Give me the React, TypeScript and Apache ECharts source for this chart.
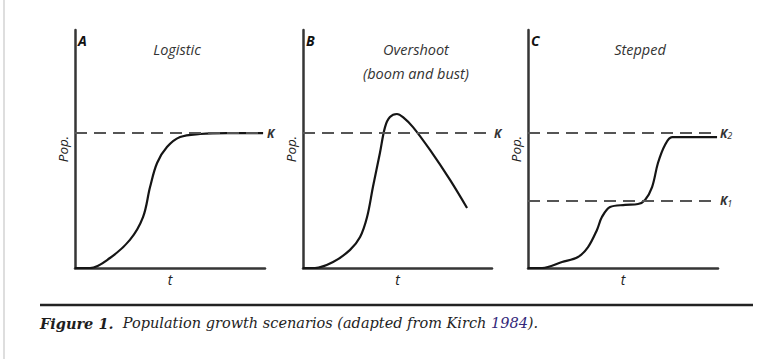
import React, { useEffect, useRef } from "react";
import * as echarts from "echarts";

// Panel titles and labels
const panelLetters = ["A", "B", "C"];
const panelTitles = ["Logistic", "Overshoot\n(boom and bust)", "Stepped"];
const xAxisName = "t";
const yAxisName = "Pop.";

// Curves: [time, population] on 0..100 scales
const logistic: [number, number][] = [
  [0, 0], [7.9, 0], [18.4, 4.2], [28.9, 11.8], [35.8, 21.4], [39.5, 34.0],
  [43.2, 44.1], [48.4, 50.8], [55.3, 55.0], [65.8, 56.3], [80, 56.7], [99, 56.7],
];
const overshoot: [number, number][] = [
  [0, 0], [6.3, 0], [15.9, 2.5], [24.9, 7.6], [30.2, 13.0], [33.9, 21.4],
  [37.0, 34.0], [40.7, 48.3], [43.4, 59.2], [46.0, 63.4], [49.7, 64.7],
  [52.9, 63.4], [58.2, 59.2], [67.2, 49.6], [77.8, 37.0], [86.8, 25.2],
];
const stepped: [number, number][] = [
  [0, 0], [7.4, 0], [17.9, 2.5], [26.3, 4.6], [31.6, 8.8], [36.3, 16.0],
  [38.9, 21.4], [43.2, 25.6], [51.1, 26.5], [57.9, 26.9], [61.6, 28.6],
  [65.3, 34.0], [68.4, 44.1], [72.1, 51.7], [75.8, 55.0], [84.2, 55.0], [99.5, 55.0],
];

// Carrying capacities
const capacityK = 56.7;
const capacityK1 = 28.2;
const capacityK2 = 56.7;

const captionBold = "Figure 1.";
const captionText = "  Population growth scenarios (adapted from Kirch ";
const captionYear = "1984";
const captionEnd = ").";

const AXIS_COLOR = "#363636";
const DASH_COLOR = "#555555";
const CURVE_COLOR = "#151515";
const SANS = "'Open Sans', 'Noto Sans', sans-serif";
const SERIF = "'DejaVu Serif', 'Liberation Serif', serif";

export default function App() {
  const ref = useRef<HTMLDivElement>(null);

  useEffect(() => {
    if (!ref.current) return;
    const chart = echarts.init(ref.current, undefined, { renderer: "svg" });

    const grids = [
      { left: 75, right: 513, top: 30, bottom: 91 },
      { left: 303, right: 286, top: 30, bottom: 91 },
      { left: 528, right: 60, top: 30, bottom: 91 },
    ];

    const axisLine = { show: true, lineStyle: { color: AXIS_COLOR, width: 2.5 } };
    const nameStyle = {
      fontFamily: SANS,
      fontStyle: "italic" as const,
      fontSize: 14,
      color: "#222",
    };

    const xAxes = grids.map((_, i) => ({
      type: "value" as const,
      gridIndex: i,
      min: 0,
      max: 100,
      axisLine,
      axisTick: { show: false },
      axisLabel: { show: false },
      splitLine: { show: false },
      name: xAxisName,
      nameLocation: "middle" as const,
      nameGap: 4,
      nameTextStyle: { ...nameStyle, verticalAlign: "top" as const },
    }));
    const yAxes = grids.map((_, i) => ({
      type: "value" as const,
      gridIndex: i,
      min: 0,
      max: 100,
      axisLine,
      axisTick: { show: false },
      axisLabel: { show: false },
      splitLine: { show: false },
      name: yAxisName,
      nameLocation: "middle" as const,
      nameRotate: 90,
      nameGap: 5,
      nameTextStyle: { ...nameStyle, fontSize: 13.5 },
    }));

    const dashLine = { color: DASH_COLOR, width: 2, type: [12, 7] as number[] };
    const kLabelRich = {
      k: { fontFamily: SANS, fontStyle: "italic" as const, fontWeight: "bold" as const, fontSize: 12, color: "#333" },
      s: { fontFamily: SANS, fontStyle: "italic" as const, fontSize: 9, color: "#333", padding: [5, 0, 0, 0] },
    };
    const markK = (entries: { y: number; label: string }[]) => ({
      silent: true,
      symbol: "none",
      lineStyle: dashLine,
      label: { show: true, position: "end" as const, distance: 2, rich: kLabelRich },
      data: entries.map((e) => ({
        yAxis: e.y,
        label: { formatter: e.label },
      })),
    });

    const curve = (data: [number, number][], i: number, marks: any) => ({
      type: "line" as const,
      xAxisIndex: i,
      yAxisIndex: i,
      data,
      smooth: 0.35,
      showSymbol: false,
      lineStyle: { color: CURVE_COLOR, width: 2.2 },
      markLine: marks,
      z: 3,
    });

    const series = [
      curve(logistic, 0, markK([{ y: capacityK, label: "{k|K}" }])),
      curve(overshoot, 1, markK([{ y: capacityK, label: "{k|K}" }])),
      curve(stepped, 2, markK([
        { y: capacityK2, label: "{k|K}{s|2}" },
        { y: capacityK1, label: "{k|K}{s|1}" },
      ])),
    ];

    const letterX = [78, 306, 531];
    const titleX = [177, 416, 640];
    const graphic: any[] = [
      {
        type: "rect",
        shape: { x: 3, y: 0, width: 2, height: 359 },
        style: { fill: "#dedede" },
        silent: true,
      },
      {
        type: "line",
        shape: { x1: 40, y1: 305, x2: 753, y2: 305 },
        style: { stroke: "#222", lineWidth: 2.5 },
        silent: true,
      },
      {
        type: "text",
        x: 40,
        y: 323,
        style: {
          text: `{b|${captionBold}}{n|${captionText}}{y|${captionYear}}{n|${captionEnd}}`,
          textVerticalAlign: "middle",
          rich: {
            b: { fontFamily: SERIF, fontWeight: "bold", fontStyle: "italic", fontSize: 14.5, fill: "#1e1e1e" },
            n: { fontFamily: SERIF, fontStyle: "italic", fontSize: 14.5, fill: "#1e1e1e" },
            y: { fontFamily: SERIF, fontStyle: "italic", fontSize: 14.5, fill: "#33287a" },
          },
        },
      },
    ];
    panelLetters.forEach((l, i) => {
      graphic.push({
        type: "text",
        x: letterX[i],
        y: 40,
        style: {
          text: l,
          font: `bold italic 14px ${SANS}`,
          fill: "#111",
          textVerticalAlign: "middle",
        },
      });
      graphic.push({
        type: "text",
        x: titleX[i],
        y: 49 - 12,
        style: {
          text: panelTitles[i],
          font: `italic 14.5px ${SANS}`,
          fill: "#333",
          textAlign: "center",
          textVerticalAlign: "top",
          lineHeight: 24,
        },
      });
    });

    chart.setOption({
      animation: false,
      backgroundColor: "#ffffff",
      grid: grids,
      xAxis: xAxes,
      yAxis: yAxes,
      series,
      graphic,
    });

    return () => chart.dispose();
  }, []);

  return (
    <div
      ref={ref}
      style={{ position: "fixed", left: 0, top: 0, width: 778, height: 359, background: "#fff" }}
    />
  );
}
